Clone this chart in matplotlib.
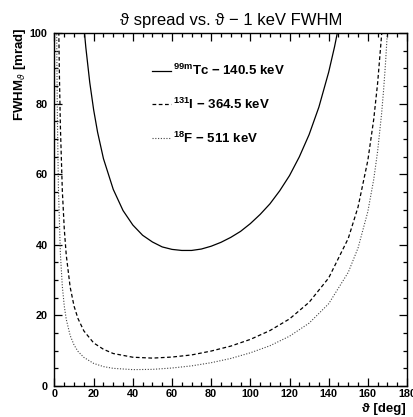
import matplotlib
matplotlib.use("Agg")
import matplotlib.pyplot as plt
from matplotlib.ticker import MultipleLocator

plt.rcParams['font.family'] = ['Liberation Sans', 'DejaVu Sans']
plt.rcParams['mathtext.fontset'] = 'custom'
plt.rcParams['mathtext.rm'] = 'Liberation Sans:bold'
plt.rcParams['mathtext.bf'] = 'Liberation Sans:bold'

# angular spread (theta in deg, FWHM in mrad)
theta_tc = [15, 16, 18, 20, 22, 25, 30, 35, 40, 45, 50, 55, 60, 65, 70, 75, 80,
            85, 90, 95, 100, 105, 110, 115, 120, 125, 130, 135, 140, 143, 145]
fwhm_tc = [101.9, 95.9, 86.0, 78.2, 71.9, 64.4, 55.7, 49.7, 45.6, 42.7, 40.8, 39.4,
           38.7, 38.4, 38.4, 38.8, 39.6, 40.7, 42.1, 43.8, 46.0, 48.6, 51.6, 55.3,
           59.6, 64.9, 71.2, 79.0, 88.9, 96.1, 101.6]

theta_i = [2.2, 2.5, 3, 4, 5, 6, 8, 10, 12, 15, 20, 25, 30, 40, 50, 60, 70, 80,
           90, 100, 110, 120, 130, 140, 150, 155, 160, 163, 165, 167, 167.3]
fwhm_i = [100.3, 88.3, 73.6, 55.3, 44.4, 37.1, 28.0, 22.6, 19.1, 15.6, 12.2, 10.4,
          9.2, 8.15, 7.9, 8.2, 8.8, 9.9, 11.3, 13.2, 15.7, 19.0, 23.7, 30.6, 41.8,
          50.7, 63.9, 75.5, 85.8, 99.2, 101.5]

theta_f = [1.1, 1.2, 1.5, 2, 3, 4, 5, 6, 8, 10, 12, 15, 20, 25, 30, 40, 50, 60, 70,
           80, 90, 100, 110, 120, 130, 140, 150, 155, 160, 163, 165, 167, 168, 169, 170]
fwhm_f = [102.0, 93.5, 74.8, 56.1, 37.5, 28.2, 22.6, 18.9, 14.3, 11.6, 9.8, 8.1, 6.4,
          5.5, 5.0, 4.64, 4.71, 5.1, 5.7, 6.6, 7.8, 9.4, 11.4, 14.1, 17.8, 23.3, 32.2,
          39.1, 49.4, 58.5, 66.5, 77.0, 83.5, 91.2, 100.4]

labels = [r'$^{\mathrm{99m}}$Tc $-$ 140.5 keV', r'$^{\mathrm{131}}$I $-$ 364.5 keV',
          r'$^{\mathrm{18}}$F $-$ 511 keV']

fig = plt.figure(figsize=(4.13, 4.17), dpi=100)
ax = fig.add_axes([54.5 / 413, 31 / 417, 352.5 / 413, 353 / 417])

ax.plot(theta_tc, fwhm_tc, color='black', lw=0.9, ls='-', label=labels[0])
ax.plot(theta_i, fwhm_i, color='black', lw=0.9, ls=(0, (3, 2)), label=labels[1])
ax.plot(theta_f, fwhm_f, color='#444444', lw=0.8, ls=(0, (1, 1.5)), label=labels[2])

ax.set_xlim(0, 180)
ax.set_ylim(0, 100)
ax.xaxis.set_major_locator(MultipleLocator(20))
ax.xaxis.set_minor_locator(MultipleLocator(5))
ax.yaxis.set_major_locator(MultipleLocator(20))
ax.yaxis.set_minor_locator(MultipleLocator(5))
ax.tick_params(which='both', direction='in', top=True, right=True, width=0.9)
ax.tick_params(which='major', length=6, labelsize=7.8)
ax.tick_params(axis='x', which='major', pad=2.5)
ax.tick_params(axis='y', which='major', pad=5)
ax.tick_params(which='minor', length=3)
for lab in ax.get_xticklabels() + ax.get_yticklabels():
    lab.set_fontweight('bold')
for sp in ax.spines.values():
    sp.set_linewidth(1.0)

fig.text(230.7 / 413, 1 - 20 / 417, 'ϑ spread vs. ϑ − 1 keV FWHM', fontsize=12,
         ha='center', va='center')
fig.text(406 / 413, 2 / 417, 'ϑ [deg]', fontsize=9.5, fontweight='bold',
         ha='right', va='bottom')
fig.text(20 / 413, 1 - 27 / 417, r'FWHM$_{ϑ}$ [mrad]', fontsize=9.5, fontweight='bold',
         rotation=90, ha='center', va='top')

leg = ax.legend(loc='upper left', bbox_to_anchor=(0.276, 0.915), frameon=False,
                handlelength=1.45, handletextpad=0.15, labelspacing=1.4,
                borderpad=0, borderaxespad=0,
                prop={'size': 9.5, 'weight': 'bold'})

fig.savefig('out.png', dpi=100)
